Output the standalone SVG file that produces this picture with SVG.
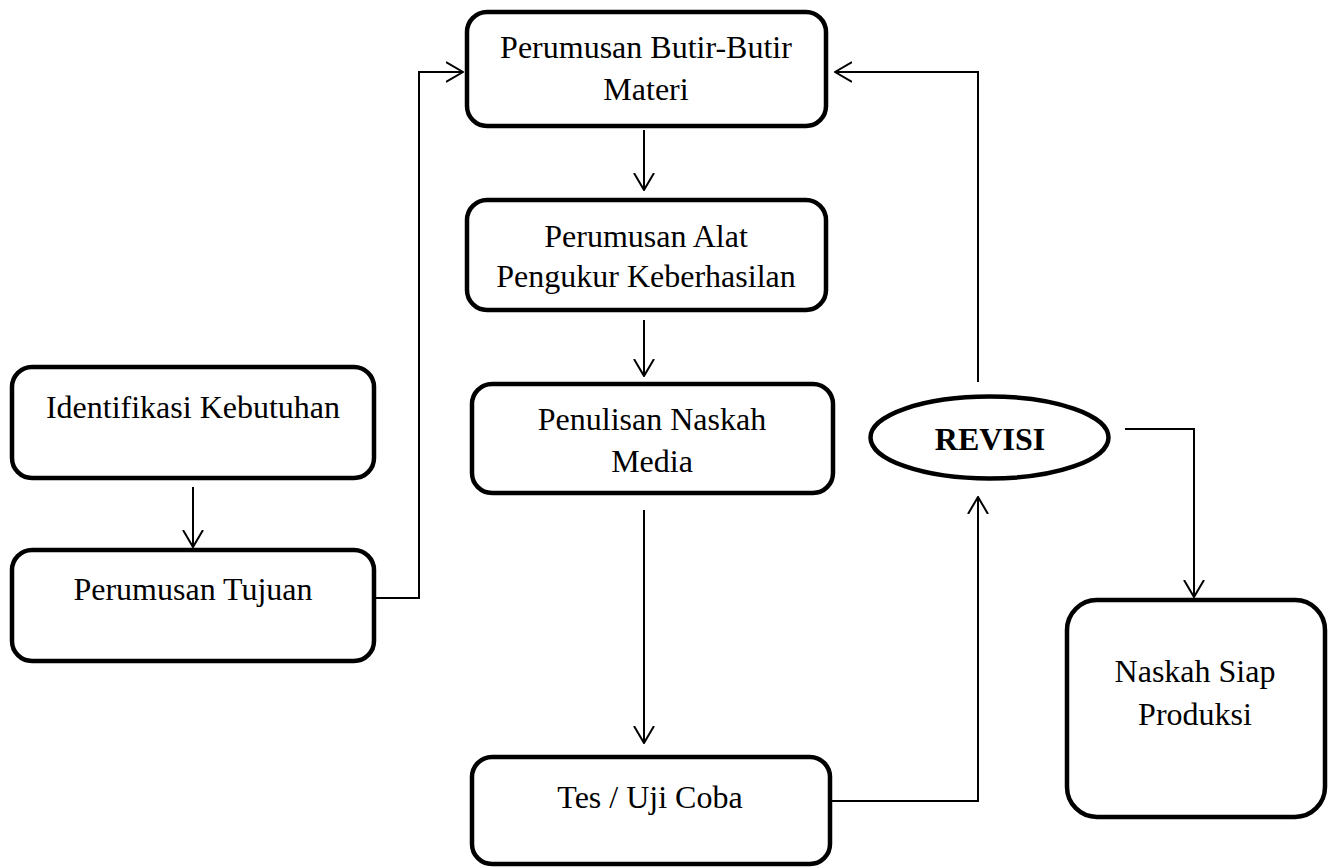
<svg xmlns="http://www.w3.org/2000/svg" width="1336" height="868" viewBox="0 0 1336 868">
<defs>
<style>
.box{fill:#fff;stroke:#000;stroke-width:4.5}
.t{font-family:"Liberation Serif","Times New Roman",serif;font-size:32px;fill:#000;text-anchor:middle}
.b{font-weight:bold}
.c{fill:none;stroke:#000;stroke-width:2}
</style>
<marker id="ah" viewBox="0 0 18 22" refX="17" refY="11" markerWidth="18" markerHeight="22" markerUnits="userSpaceOnUse" orient="auto">
<path d="M0,1 L17,11 L0,21" fill="none" stroke="#000" stroke-width="2"/>
</marker>
</defs>
<rect width="1336" height="868" fill="#fff"/>
<g id="connectors">
<path class="c" d="M193,487 V547" marker-end="url(#ah)"/>
<path class="c" d="M376,598 H419 V72 H463" marker-end="url(#ah)"/>
<path class="c" d="M644,130 V190" marker-end="url(#ah)"/>
<path class="c" d="M644,320 V376" marker-end="url(#ah)"/>
<path class="c" d="M644,510 V743" marker-end="url(#ah)"/>
<path class="c" d="M832,801 H978 V497" marker-end="url(#ah)"/>
<path class="c" d="M978,382 V72 H835" marker-end="url(#ah)"/>
<path class="c" d="M1125,429 H1194 V597" marker-end="url(#ah)"/>
</g>
<g id="butir">
<rect class="box" x="467" y="12" width="359" height="114" rx="20"/>
<text class="t" x="646" y="58">Perumusan Butir-Butir</text>
<text class="t" x="646" y="100">Materi</text>
</g>
<g id="alat">
<rect class="box" x="467" y="200" width="359" height="110" rx="20"/>
<text class="t" x="646" y="247">Perumusan Alat</text>
<text class="t" x="646" y="287">Pengukur Keberhasilan</text>
</g>
<g id="penulisan">
<rect class="box" x="472" y="384" width="361" height="109" rx="20"/>
<text class="t" x="652" y="430">Penulisan Naskah</text>
<text class="t" x="652" y="472">Media</text>
</g>
<g id="tes">
<rect class="box" x="472" y="757" width="358" height="107" rx="20"/>
<text class="t" x="650" y="808">Tes / Uji Coba</text>
</g>
<g id="identifikasi">
<rect class="box" x="12" y="367" width="362" height="111" rx="20"/>
<text class="t" x="193" y="418">Identifikasi Kebutuhan</text>
</g>
<g id="tujuan">
<rect class="box" x="12" y="550" width="362" height="111" rx="20"/>
<text class="t" x="193" y="600">Perumusan Tujuan</text>
</g>
<g id="revisi">
<ellipse cx="989.5" cy="437.5" rx="119" ry="41" fill="#fff" stroke="#000" stroke-width="4.5"/>
<text class="t b" x="990" y="450">REVISI</text>
</g>
<g id="naskah">
<rect class="box" x="1067" y="600" width="258" height="217" rx="30"/>
<text class="t" x="1195" y="682">Naskah Siap</text>
<text class="t" x="1195" y="725">Produksi</text>
</g>
</svg>
